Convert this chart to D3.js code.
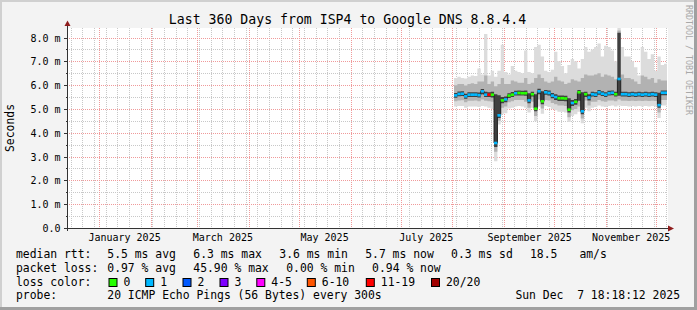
<!DOCTYPE html>
<html><head><meta charset="utf-8">
<script src="https://cdn.jsdelivr.net/npm/d3@7"></script>
<style>
html,body{margin:0;padding:0;background:#f3f3f3;overflow:hidden}
text{font-family:"DejaVu Sans Mono",monospace}
</style>
</head><body>
<svg id="chart" width="697" height="310"></svg>
<script>
// ---------------- data ----------------
const title = "Last 360 Days from ISP4 to Google DNS 8.8.4.4";
const yAxisTitle = "Seconds";
const watermark = "RRDTOOL / TOBI OETIKER";
const startTime = new Date(Date.UTC(2024, 11, 12, 18, 18, 12));
const endTime   = new Date(Date.UTC(2025, 11, 7, 18, 18, 12));
const yMax = 8.4;
const yTicks = [0, 1, 2, 3, 4, 5, 6, 7, 8];
const yTickLabels = ["0.0", "1.0 m", "2.0 m", "3.0 m", "4.0 m", "5.0 m", "6.0 m", "7.0 m", "8.0 m"];
const yMinorTicks = [0.5, 1.5, 2.5, 3.5, 4.5, 5.5, 6.5, 7.5];
const monthLabelDates = ["2025-01-16", "2025-03-16", "2025-05-16", "2025-07-16", "2025-09-16", "2025-11-16"];
const monthLabels = ["January 2025", "March 2025", "May 2025", "July 2025", "September 2025", "November 2025"];

// one sample every 2 days from 2025-08-02
const sampleStart = "2025-08-02";
const sampleDays = 2;
const median = [5.57,5.63,5.64,5.53,5.60,5.60,5.60,5.58,5.74,5.60,
  5.60,5.60,3.57,4.73,5.36,5.40,5.56,5.60,5.66,5.67,
  5.66,5.66,5.36,5.62,5.01,5.74,5.32,5.70,5.67,5.56,
  5.50,5.45,5.45,5.44,4.97,5.25,5.30,5.70,4.90,5.62,
  5.48,5.62,5.60,5.70,5.64,5.60,5.66,5.68,5.62,6.26,
  5.62,5.62,5.60,5.62,5.60,5.62,5.60,5.62,5.60,5.62,
  5.60,5.16,5.68,5.68];
const lossClass = [1,1,1,1,1,1,1,1,1,1,
  6,0,1,1,0,1,0,0,1,0,
  0,0,1,0,0,1,0,1,1,1,
  1,0,0,0,0,1,0,0,1,0,
  1,1,1,1,1,1,1,1,0,1,
  1,1,1,1,1,1,1,1,1,1,
  1,1,1,1];
const smokeMax = [6.30,6.35,6.30,6.28,6.35,6.40,6.38,6.70,6.45,8.15,
  6.40,6.60,6.35,6.60,7.70,6.55,6.45,6.80,6.60,6.55,
  6.50,7.45,6.55,6.50,7.60,7.70,7.20,6.60,6.55,6.65,
  7.40,7.00,6.80,6.50,6.85,7.10,7.00,6.70,7.10,7.60,
  7.40,7.50,7.60,7.75,7.20,7.65,7.60,7.45,7.00,8.40,
  7.60,7.20,7.20,7.00,6.75,6.40,7.60,7.40,7.10,7.30,
  6.60,7.20,6.85,6.90];
const smokeHigh = [6.00,6.05,6.05,5.98,6.05,6.08,6.05,6.15,6.15,6.40,
  6.05,6.15,5.95,6.05,6.30,6.05,6.05,6.20,6.15,6.10,
  6.10,6.30,6.05,6.10,6.30,6.45,6.30,6.15,6.10,6.15,
  6.35,6.20,6.15,6.05,6.10,6.25,6.20,6.15,6.30,6.45,
  6.40,6.40,6.45,6.50,6.35,6.45,6.40,6.35,6.25,8.30,
  6.45,6.30,6.30,6.25,6.15,6.05,6.40,6.35,6.25,6.30,
  6.10,6.25,6.20,6.20];
const smokeLow = [5.32,5.36,5.37,5.28,5.34,5.34,5.35,5.32,5.40,5.34,
  5.32,5.30,3.20,4.50,5.05,5.10,5.28,5.32,5.38,5.38,
  5.38,5.30,5.05,5.30,4.70,5.40,5.02,5.38,5.35,5.25,
  5.20,5.15,5.15,5.12,4.65,4.95,5.00,5.10,4.60,5.35,
  5.15,5.30,5.30,5.38,5.32,5.30,5.35,5.36,5.32,5.40,
  5.34,5.34,5.33,5.34,5.33,5.34,5.33,5.34,5.33,5.34,
  5.33,4.85,5.38,5.38];
const smokeMin = [5.10,5.12,5.12,5.05,5.10,5.10,5.10,5.08,5.12,5.10,
  5.05,5.00,2.80,4.35,4.80,4.82,5.02,5.05,5.10,5.12,
  5.10,5.05,4.85,5.05,4.48,5.10,4.80,5.12,5.08,5.00,
  4.95,4.88,4.88,4.85,4.45,4.70,4.78,4.88,4.40,5.05,
  4.90,5.05,5.08,5.15,5.10,5.08,5.12,5.14,5.10,5.15,
  5.12,5.12,5.10,5.12,5.10,5.12,5.10,5.12,5.10,5.12,
  5.10,4.62,5.15,5.15];
const coreHigh = [5.67,5.73,5.74,5.64,5.70,5.70,5.70,5.69,5.84,5.72,
  5.70,5.72,5.62,5.58,5.50,5.52,5.66,5.71,5.76,5.77,
  5.76,5.78,5.66,5.72,5.62,5.85,5.74,5.80,5.77,5.67,
  5.62,5.56,5.56,5.55,5.45,5.38,5.42,5.80,5.70,5.72,
  5.62,5.72,5.70,5.80,5.74,5.70,5.76,5.78,5.72,8.20,
  5.72,5.72,5.70,5.72,5.70,5.72,5.70,5.72,5.70,5.72,
  5.70,5.68,5.78,5.78];
const coreLow = [5.47,5.53,5.54,5.43,5.50,5.50,5.50,5.48,5.62,5.50,
  5.50,5.48,3.40,4.62,5.24,5.28,5.46,5.50,5.56,5.57,
  5.56,5.55,5.24,5.52,4.90,5.62,5.20,5.60,5.57,5.45,
  5.38,5.33,5.33,5.32,4.85,5.12,5.18,5.34,4.78,5.50,
  5.36,5.52,5.50,5.60,5.54,5.50,5.56,5.58,5.52,5.55,
  5.52,5.52,5.50,5.52,5.50,5.52,5.50,5.52,5.50,5.52,
  5.50,5.05,5.58,5.58];

const lossLabels = ["0", "1", "2", "3", "4-5", "6-10", "11-19", "20/20"];
const lossColors = ["#26ff00", "#00b8ff", "#0059ff", "#7e00ff", "#ff00ff", "#ff5500", "#ff0000", "#a10000"];

const legendRows = [
  {label: "median rtt:", items: [["5.5 ms avg",107.3],["6.3 ms max",193.3],["3.6 ms min",279.3],["5.7 ms now",365.2],["0.3 ms sd",451.1],["18.5",530],["am/s",579.4]]},
  {label: "packet loss:", items: [["0.97 % avg",107.3],["45.90 % max",193.3],["0.00 % min",286.2],["0.94 % now",372.1]]},
  {label: "loss color:", items: []},
  {label: "probe:", items: [["20 ICMP Echo Pings (56 Bytes) every 300s",107.3]]}
];
const stampText = "Sun Dec  7 18:18:12 2025";

// ---------------- layout ----------------
const W = 697, H = 310;
const plot = {l: 67, r: 667, t: 28, b: 228};
const svg = d3.select("#chart");

const x = d3.scaleUtc().domain([startTime, endTime]).range([plot.l, plot.r]);
const y = d3.scaleLinear().domain([0, yMax]).range([plot.b, plot.t]);

// frame
svg.append("rect").attr("width", W).attr("height", H).attr("fill", "#f3f3f3");
svg.append("rect").attr("x",0).attr("y",0).attr("width",W).attr("height",2).attr("fill","#d0d0d0");
svg.append("rect").attr("x",0).attr("y",0).attr("width",2).attr("height",H).attr("fill","#d0d0d0");
svg.append("rect").attr("x",W-3).attr("y",0).attr("width",3).attr("height",H).attr("fill","#a0a0a0");
svg.append("rect").attr("x",0).attr("y",H-3).attr("width",W).attr("height",3).attr("fill","#a0a0a0");

// plot background
svg.append("rect").attr("x", plot.l).attr("y", plot.t).attr("width", plot.r - plot.l + 1).attr("height", plot.b - plot.t).attr("fill", "#ffffff");

svg.append("defs").append("clipPath").attr("id","pc").append("rect")
  .attr("x", plot.l).attr("y", plot.t).attr("width", plot.r - plot.l).attr("height", plot.b - plot.t);

// grid
const grid = svg.append("g").attr("shape-rendering","crispEdges");
const weeks = d3.utcSunday.range(startTime, endTime);
const months = d3.utcMonth.range(startTime, endTime);
grid.selectAll(".vmin").data(weeks).join("line")
  .attr("x1", d => Math.round(x(d)) + 0.5).attr("x2", d => Math.round(x(d)) + 0.5)
  .attr("y1", plot.t).attr("y2", plot.b)
  .attr("stroke", "#c8c8c8").attr("stroke-dasharray", "1,1");
grid.selectAll(".hmin").data(yMinorTicks).join("line")
  .attr("x1", plot.l).attr("x2", plot.r)
  .attr("y1", d => Math.round(y(d)) + 0.5).attr("y2", d => Math.round(y(d)) + 0.5)
  .attr("stroke", "#c8c8c8").attr("stroke-dasharray", "1,1");
grid.selectAll(".vmaj").data(months).join("line")
  .attr("x1", d => Math.round(x(d)) + 0.5).attr("x2", d => Math.round(x(d)) + 0.5)
  .attr("y1", plot.t).attr("y2", plot.b)
  .attr("stroke", "#f09a9a").attr("stroke-dasharray", "1,1");
grid.selectAll(".hmaj").data(yTicks.filter(v => v > 0)).join("line")
  .attr("x1", plot.l).attr("x2", plot.r)
  .attr("y1", d => Math.round(y(d)) + 0.5).attr("y2", d => Math.round(y(d)) + 0.5)
  .attr("stroke", "#f09a9a").attr("stroke-dasharray", "1,1");

// samples
const t0 = new Date(sampleStart + "T00:00:00Z");
const samples = median.map((m, i) => ({
  t: d3.utcDay.offset(t0, i * sampleDays),
  t1: d3.utcDay.offset(t0, (i + 1) * sampleDays),
  med: m, lc: lossClass[i],
  max: smokeMax[i], hi: smokeHigh[i], lo: smokeLow[i], min: smokeMin[i],
  cHi: coreHigh[i], cLo: coreLow[i]
}));
const ext = samples.concat([{...samples[samples.length - 1], t: samples[samples.length - 1].t1}]);

const data = svg.append("g").attr("clip-path", "url(#pc)");
const bands = [
  {lo: "min", hi: "max", color: "#dcdcdc"},
  {lo: "lo", hi: "hi", color: "#b2b2b2"},
  {lo: "cLo", hi: "cHi", color: "#404040"}
];
bands.forEach(b => {
  const area = d3.area().curve(d3.curveStepAfter)
    .x(d => x(d.t)).y0(d => y(d[b.lo])).y1(d => y(d[b.hi]));
  data.append("path").datum(ext).attr("d", area).attr("fill", b.color);
});
const medLine = d3.line().curve(d3.curveStepAfter).x(d => x(d.t)).y(d => y(d.med));
data.append("path").datum(ext).attr("d", medLine).attr("fill", "none").attr("stroke", "#202020").attr("stroke-width", 1);
data.selectAll(".med").data(samples).join("rect")
  .attr("x", d => x(d.t)).attr("width", d => x(d.t1) - x(d.t))
  .attr("y", d => y(d.med) - 1.3).attr("height", 2.6)
  .attr("fill", d => lossColors[d.lc]);

// axes
const yAxis = d3.axisLeft(y).tickValues(yTicks).tickFormat((d, i) => yTickLabels[i]).tickSize(4).tickPadding(3);
const gy = svg.append("g").attr("transform", `translate(${plot.l + 0.5},0)`).call(yAxis);
gy.select(".domain").remove();
gy.selectAll(".tick line").attr("stroke", "#333").attr("shape-rendering","crispEdges");
gy.selectAll(".tick").attr("transform", d => `translate(0,${Math.round(y(d)) + 0.5})`);
gy.selectAll("text").attr("font-family", "DejaVu Sans Mono").attr("font-size", 10).attr("fill", "#000").attr("dy", "0.36em").attr("x", -7);
const gyMinor = svg.append("g").attr("transform", `translate(${plot.l + 0.5},0)`)
  .call(d3.axisLeft(y).tickValues(yMinorTicks).tickFormat("").tickSize(2));
gyMinor.select(".domain").remove();
gyMinor.selectAll(".tick").attr("transform", d => `translate(0,${Math.round(y(d)) + 0.5})`);
gyMinor.selectAll(".tick line").attr("stroke", "#333").attr("shape-rendering","crispEdges");

const xAxis = d3.axisBottom(x).tickValues(monthLabelDates.map(s => new Date(s + "T00:00:00Z")))
  .tickFormat((d, i) => monthLabels[i]).tickSize(0).tickPadding(0);
const gx = svg.append("g").attr("transform", `translate(0,${plot.b})`).call(xAxis);
gx.select(".domain").remove();
gx.selectAll("text").attr("font-family", "DejaVu Sans Mono").attr("font-size", 10).attr("fill", "#000").attr("dy", null).attr("y", 13);

// axis lines and arrows
svg.append("line").attr("x1", plot.l - 3).attr("x2", plot.r + 2).attr("y1", plot.b + 0.5).attr("y2", plot.b + 0.5)
  .attr("stroke", "#333").attr("shape-rendering","crispEdges");
svg.append("line").attr("x1", plot.l + 0.5).attr("x2", plot.l + 0.5).attr("y1", plot.b + 3).attr("y2", plot.t - 2)
  .attr("stroke", "#333").attr("shape-rendering","crispEdges");
svg.append("path").attr("d", `M${plot.r + 1},${plot.b - 2.5}L${plot.r + 7},${plot.b + 0.5}L${plot.r + 1},${plot.b + 3.5}Z`).attr("fill", "#8f1d1d");
svg.append("path").attr("d", `M${plot.l - 2.5},${plot.t - 2}L${plot.l + 0.5},${plot.t - 7.5}L${plot.l + 3.5},${plot.t - 2}Z`).attr("fill", "#8f1d1d");

// titles
svg.append("text").attr("x", 347.5).attr("y", 24).attr("text-anchor", "middle")
  .attr("font-size", 13.2).attr("fill", "#000").text(title);
svg.append("text").attr("transform", `translate(13.7,${(plot.t + plot.b) / 2}) rotate(-90)`)
  .attr("text-anchor", "middle").attr("font-size", 11.4).attr("fill", "#000").text(yAxisTitle);
svg.append("text").attr("transform", `translate(686,5) rotate(90)`)
  .attr("text-anchor", "start").attr("font-size", 8.3).attr("fill", "#a8a8a8").text(watermark);

// legend
const lg = svg.append("g").attr("font-size", 11.4).attr("fill", "#000");
const rowY = [258, 271.8, 285.6, 299.4];
legendRows.forEach((r, ri) => {
  lg.append("text").attr("x", 16).attr("y", rowY[ri]).attr("xml:space", "preserve").text(r.label);
  r.items.forEach(it => lg.append("text").attr("x", it[1]).attr("y", rowY[ri]).attr("xml:space","preserve").text(it[0]));
});
const boxX = [108.5, 145.2, 182.5, 219.5, 256.3, 306.8, 365.8, 431];
lossLabels.forEach((lab, i) => {
  lg.append("rect").attr("x", boxX[i] + 0.5).attr("y", 278.5).attr("width", 8).attr("height", 8)
    .attr("fill", lossColors[i]).attr("stroke", "#000").attr("stroke-width", 1);
  lg.append("text").attr("x", boxX[i] + 15).attr("y", rowY[2]).text(lab);
});
lg.append("text").attr("x", 680).attr("y", rowY[3]).attr("text-anchor", "end").attr("xml:space","preserve").text(stampText);
</script>
</body></html>
